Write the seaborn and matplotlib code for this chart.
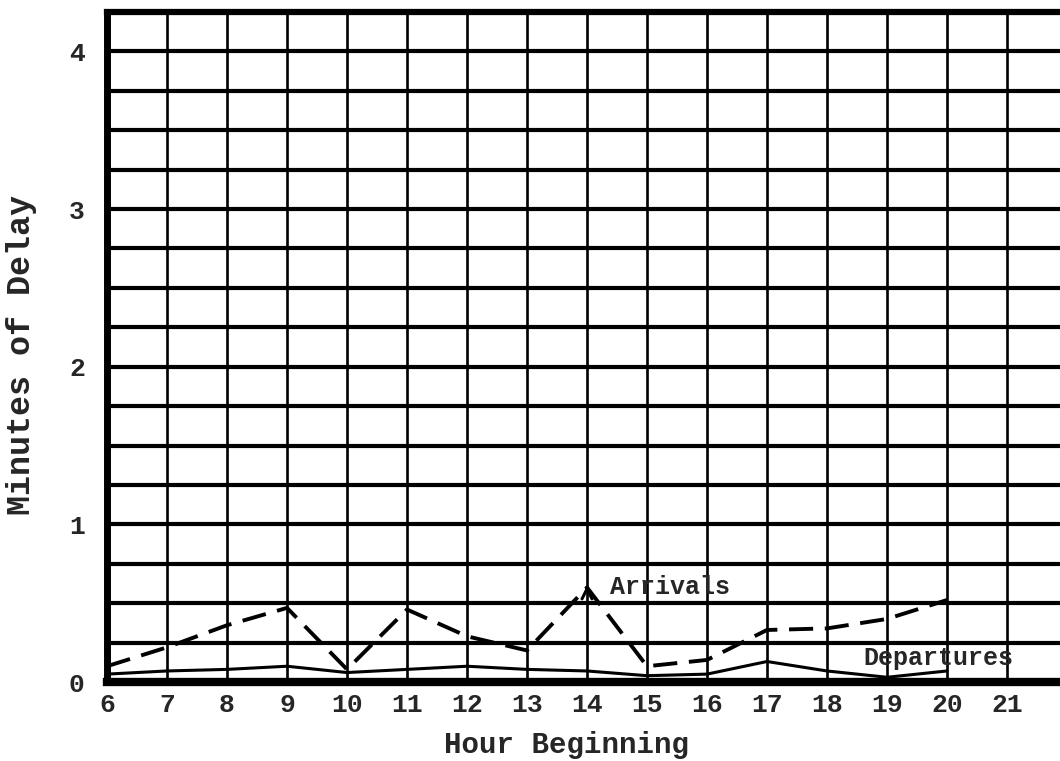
import numpy as np
import pandas as pd
import matplotlib
matplotlib.use("Agg")
import matplotlib.pyplot as plt
import seaborn as sns

hours = [6, 7, 8, 9, 10, 11, 12, 13, 14, 15, 16, 17, 18, 19, 20]
arrivals = [0.10, 0.22, 0.36, 0.47, 0.08, 0.46, 0.29, 0.20, 0.60, 0.10, 0.14, 0.33, 0.34, 0.40, 0.52]
departures = [0.05, 0.07, 0.08, 0.10, 0.06, 0.08, 0.10, 0.08, 0.07, 0.04, 0.05, 0.13, 0.07, 0.03, 0.07]
x_ticks = list(range(6, 22))
y_ticks = [0, 1, 2, 3, 4]

sns.set_style("white")
plt.rcParams['font.family'] = ['Liberation Mono', 'DejaVu Sans Mono']

df = pd.DataFrame({"Hour": hours, "Arrivals": arrivals, "Departures": departures})

fig = plt.figure(figsize=(10.6, 7.61), dpi=100)
W, H = 1060, 761
x0, x1 = 107, 1060
y0, y1 = 682, 12
ax = fig.add_axes([x0 / W, 1 - y0 / H, (x1 - x0) / W, (y0 - y1) / H])

ax.set_xlim(6, 6 + (x1 - x0) / 60.0)
ax.set_ylim(0, 4.25)

# grid
for yv in np.arange(0.25, 4.25, 0.25):
    ax.axhline(yv, color='black', lw=3.0, zorder=1)
for xv in x_ticks[1:]:
    ax.axvline(xv, color='black', lw=1.9, zorder=1)

sns.lineplot(data=df, x="Hour", y="Arrivals", ax=ax, color='black', lw=2.8,
             linestyle=(0, (6.2, 3.0)), zorder=3)
sns.lineplot(data=df, x="Hour", y="Departures", ax=ax, color='black', lw=2.2, zorder=3)

ax.annotate('', xy=(14, 0.63), xytext=(14, 0.56),
            arrowprops=dict(arrowstyle='->', color='black', lw=2.2, mutation_scale=18))

ax.text(14.38, 0.60, "Arrivals", fontsize=18, va='center', ha='left',
        fontweight='bold', family=['Liberation Mono'])
ax.text(18.6, 0.155, "Departures", fontsize=18, va='center', ha='left',
        fontweight='bold', family=['Liberation Mono'])

ax.set_xticks(x_ticks)
ax.set_xticklabels([str(v) for v in x_ticks], fontsize=19, fontweight='bold')
ax.set_yticks(y_ticks)
ax.set_yticklabels([str(v) for v in y_ticks], fontsize=19, fontweight='bold')
ax.tick_params(axis='x', length=0, pad=8)
ax.tick_params(axis='y', length=0, pad=16)

ax.set_xlabel("Hour Beginning", fontsize=21, fontweight='bold')
ax.set_ylabel("Minutes of Delay", fontsize=24, fontweight='bold')
ax.xaxis.set_label_coords((567 - x0) / (x1 - x0), -(745 - y0) / (y0 - y1), transform=ax.transAxes)
ax.xaxis.label.set_va('center')
ax.yaxis.set_label_coords(-(x0 - 22) / (x1 - x0), (y0 - 355) / (y0 - y1), transform=ax.transAxes)
ax.yaxis.label.set_va('center')

for side in ['left', 'bottom', 'top']:
    ax.spines[side].set_color('black')
ax.spines['left'].set_linewidth(5)
ax.spines['bottom'].set_linewidth(6)
ax.spines['top'].set_linewidth(4.5)
ax.spines['right'].set_visible(False)

fig.savefig("out.png", dpi=100, facecolor='white')
